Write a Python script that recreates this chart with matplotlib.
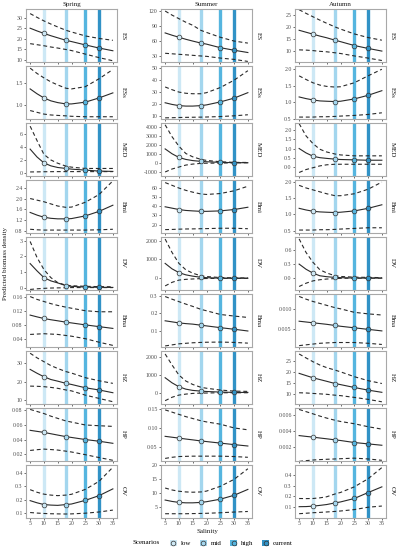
import matplotlib
matplotlib.use("Agg")
import matplotlib.pyplot as plt
from matplotlib.patches import Patch
from matplotlib.lines import Line2D
from matplotlib.legend_handler import HandlerTuple
from matplotlib.offsetbox import HPacker

plt.rcParams['font.family'] = ['Liberation Serif', 'DejaVu Serif']

# ---------------- data ----------------
seasons = ["Spring", "Summer", "Autumn"]
variables = ["ES", "ESs", "MED", "Bmi", "DV", "Bma", "HZ", "HP", "OV"]
sal = [5, 7.5, 10, 12.5, 15, 18, 20, 25, 30, 35]
scen_names = ["low", "mid", "high", "current"]
scen_sal = [10, 18, 25, 30]

# each list: [spring, summer, autumn]
ES_fit = [[25.0, 23.7, 22.5, 21.4, 20.4, 19.2, 18.6, 17.0, 15.5, 14.2],
          [76, 71.5, 67.5, 63.5, 60, 56, 54, 47, 42, 37.5],
          [18.7, 17.9, 17.1, 16.3, 15.6, 14.6, 14.0, 12.4, 11.2, 10.1]]
ES_hi = [[32.0, 30.2, 28.5, 27.0, 25.6, 24.0, 23.2, 21.3, 20.1, 19.2],
         [119, 111, 104, 97, 91, 81, 77, 67.5, 60, 56],
         [27.2, 25.7, 24.3, 22.9, 21.6, 20.1, 19.2, 17.2, 15.7, 14.6]]
ES_lo = [[17.6, 17.1, 16.6, 16.0, 15.5, 14.8, 14.3, 12.6, 10.9, 9.4],
         [36, 35, 34, 33, 32, 30.7, 30, 26.6, 24, 20],
         [10.6, 10.5, 10.3, 10.0, 9.8, 9.4, 9.1, 8.1, 7.2, 6.2]]

ESs_fit = [[1.36, 1.25, 1.156, 1.09, 1.05, 1.02, 1.02, 1.06, 1.156, 1.27],
           [21, 19.6, 18.6, 18.2, 18.2, 18.6, 19.2, 21.7, 24.9, 29.5],
           [1.16, 1.11, 1.07, 1.04, 1.03, 1.02, 1.03, 1.10, 1.21, 1.35]]
ESs_hi = [[1.83, 1.71, 1.61, 1.52, 1.45, 1.375, 1.36, 1.41, 1.59, 1.80],
          [34.3, 32, 30, 29, 28.6, 28.6, 29.5, 33.8, 40, 48],
          [1.80, 1.69, 1.59, 1.52, 1.48, 1.46, 1.47, 1.59, 1.80, 2.0]]
ESs_lo = [[0.87, 0.83, 0.79, 0.77, 0.76, 0.75, 0.74, 0.73, 0.73, 0.73],
          [8.3, 8.4, 8.6, 8.7, 8.8, 8.9, 9.0, 9.4, 10, 10.9],
          [0.55, 0.55, 0.55, 0.56, 0.56, 0.57, 0.58, 0.60, 0.63, 0.68]]

MED_fit = [[3.7, 2.5, 1.6, 1.15, 0.9, 0.75, 0.65, 0.5, 0.35, 0.3],
           [1540, 1000, 590, 370, 240, 150, 110, 40, 10, 0],
           [1.0, 0.76, 0.58, 0.5, 0.46, 0.42, 0.40, 0.38, 0.36, 0.36]]
MED_hi = [[7.2, 5.0, 2.9, 2.05, 1.55, 1.1, 0.95, 0.75, 0.75, 0.75],
          [4230, 2900, 1840, 1030, 660, 370, 260, 110, 40, 30],
          [2.36, 1.69, 1.27, 0.96, 0.81, 0.7, 0.65, 0.6, 0.6, 0.6]]
MED_lo = [[0.22, 0.23, 0.25, 0.26, 0.27, 0.27, 0.27, 0.27, 0.27, 0.27],
          [-1030, -700, -480, -260, -150, -70, -50, -40, -10, 0],
          [-0.31, -0.15, -0.05, 0.05, 0.11, 0.14, 0.14, 0.14, 0.14, 0.14]]

Bmi_fit = [[1.48, 1.38, 1.30, 1.26, 1.24, 1.24, 1.25, 1.35, 1.52, 1.75],
           [39.5, 38, 36.5, 35.5, 35, 34.5, 34.5, 35, 36.5, 39],
           [1.19, 1.14, 1.10, 1.08, 1.07, 1.06, 1.07, 1.11, 1.19, 1.30]]
Bmi_hi = [[2.0, 1.94, 1.88, 1.80, 1.72, 1.67, 1.68, 1.86, 2.15, 2.66],
          [66, 63, 60, 57.5, 55.5, 53.5, 53, 54, 57, 62],
          [1.90, 1.82, 1.76, 1.70, 1.64, 1.58, 1.58, 1.64, 1.78, 2.0]]
Bmi_lo = [[0.85, 0.83, 0.82, 0.82, 0.82, 0.82, 0.82, 0.82, 0.83, 0.85],
          [14.5, 14.7, 15, 15.2, 15.3, 15.5, 15.6, 16, 16, 15.5],
          [0.52, 0.52, 0.52, 0.53, 0.53, 0.54, 0.55, 0.57, 0.59, 0.59]]

DV_fit = [[1.54, 1.07, 0.64, 0.43, 0.30, 0.12, 0.08, 0.03, 0.02, 0.01],
          [790, 500, 300, 180, 110, 50, 30, 0, 0, 0],
          [0.30, 0.19, 0.107, 0.05, 0.03, 0.014, 0.01, 0, 0, 0]]
DV_hi = [[2.96, 1.93, 1.16, 0.64, 0.32, 0.15, 0.12, 0.08, 0.06, 0.05],
         [2090, 1375, 790, 450, 270, 125, 90, 35, 20, 15],
         [0.84, 0.55, 0.34, 0.18, 0.11, 0.05, 0.035, 0.02, 0.015, 0.01]]
DV_lo = [[-0.12, -0.08, -0.05, -0.03, -0.02, -0.01, 0, 0, 0, 0],
         [-410, -220, -100, -60, -40, -20, -15, -5, -5, -5],
         [-0.18, -0.11, -0.06, -0.035, -0.02, -0.01, -0.005, 0, 0, 0]]

Bma_fit = [[0.1076, 0.1026, 0.098, 0.0945, 0.0915, 0.0876, 0.0855, 0.080, 0.075, 0.070],
           [0.158, 0.152, 0.146, 0.142, 0.139, 0.133, 0.129, 0.119, 0.110, 0.100],
           [0.0069, 0.0067, 0.0065, 0.0063, 0.0061, 0.0058, 0.0056, 0.0052, 0.0048, 0.0044]]
Bma_hi = [[0.160, 0.152, 0.146, 0.140, 0.135, 0.130, 0.127, 0.120, 0.117, 0.117],
          [0.296, 0.281, 0.267, 0.253, 0.240, 0.223, 0.215, 0.194, 0.185, 0.177],
          [0.0133, 0.0126, 0.0120, 0.0115, 0.0110, 0.0104, 0.0101, 0.0092, 0.0088, 0.0085]]
Bma_lo = [[0.053, 0.054, 0.055, 0.054, 0.053, 0.050, 0.048, 0.041, 0.031, 0.022],
          [0.015, 0.021, 0.027, 0.030, 0.033, 0.035, 0.036, 0.037, 0.035, 0.031],
          [0.0006, 0.0008, 0.0010, 0.0012, 0.0013, 0.0014, 0.0014, 0.0014, 0.0012, 0.0009]]

HZ_fit = [[26.7, 24.6, 22.7, 21.2, 20.3, 19.1, 18.5, 16.7, 15.5, 14.0],
          [833, 550, 333, 200, 130, 90, 70, 37, 18, 18],
          [19.4, 18.4, 17.4, 16.6, 15.8, 14.8, 14.3, 13.0, 11.8, 10.8]]
HZ_hi = [[35.5, 33.0, 30.9, 28.8, 27.2, 25.5, 24.7, 22.2, 20.5, 19.1],
         [2150, 1540, 980, 650, 460, 300, 250, 150, 90, 75],
         [28.2, 26.4, 24.7, 23.2, 22.0, 20.9, 20.1, 17.9, 16.1, 14.8]]
HZ_lo = [[17.6, 17.5, 17.3, 16.9, 16.4, 15.5, 15.0, 12.7, 10.9, 9.1],
         [-440, -250, -130, -75, -37, -20, -15, 0, 0, 0],
         [10.6, 10.5, 10.3, 10.1, 9.9, 9.5, 9.3, 8.5, 7.6, 6.5]]

HP_fit = [[0.0524, 0.0510, 0.0496, 0.0478, 0.0460, 0.0439, 0.0428, 0.0400, 0.0377, 0.0349],
          [0.0777, 0.0753, 0.0730, 0.0705, 0.0683, 0.0654, 0.0638, 0.0597, 0.0557, 0.0520],
          [0.00343, 0.00333, 0.00324, 0.00313, 0.00303, 0.00290, 0.00282, 0.00257, 0.00240, 0.00223]]
HP_hi = [[0.0806, 0.0778, 0.0750, 0.0715, 0.0685, 0.0650, 0.0635, 0.0596, 0.0586, 0.0577],
         [0.148, 0.142, 0.136, 0.130, 0.125, 0.119, 0.116, 0.110, 0.100, 0.095],
         [0.00667, 0.00640, 0.00613, 0.00585, 0.00560, 0.00533, 0.00518, 0.00490, 0.00453, 0.00423]]
HP_lo = [[0.0253, 0.0263, 0.0271, 0.0265, 0.0258, 0.0243, 0.0232, 0.0196, 0.0157, 0.0120],
         [0.019, 0.022, 0.024, 0.0245, 0.025, 0.025, 0.025, 0.025, 0.024, 0.022],
         [0.00023, 0.00032, 0.00040, 0.00045, 0.00049, 0.00053, 0.00056, 0.00063, 0.00053, 0.00036]]

OV_fit = [[0.193, 0.177, 0.164, 0.160, 0.158, 0.164, 0.168, 0.195, 0.230, 0.280],
          [7.4, 6.9, 6.55, 6.4, 6.4, 6.55, 6.8, 7.7, 9.1, 11.2],
          [0.104, 0.105, 0.109, 0.116, 0.124, 0.139, 0.148, 0.180, 0.235, 0.288]]
OV_hi = [[0.274, 0.255, 0.241, 0.234, 0.230, 0.234, 0.240, 0.276, 0.336, 0.440],
         [11.7, 11.0, 10.55, 10.3, 10.2, 10.3, 10.6, 12.3, 14.8, 18.6],
         [0.180, 0.179, 0.180, 0.186, 0.196, 0.222, 0.236, 0.288, 0.363, 0.467]]
OV_lo = [[0.105, 0.101, 0.098, 0.096, 0.095, 0.094, 0.095, 0.100, 0.109, 0.123],
         [2.5, 2.5, 2.5, 2.5, 2.55, 2.6, 2.65, 2.85, 3.1, 3.3],
         [0.039, 0.043, 0.048, 0.051, 0.055, 0.060, 0.064, 0.077, 0.099, 0.110]]

fits = [ES_fit, ESs_fit, MED_fit, Bmi_fit, DV_fit, Bma_fit, HZ_fit, HP_fit, OV_fit]
his = [ES_hi, ESs_hi, MED_hi, Bmi_hi, DV_hi, Bma_hi, HZ_hi, HP_hi, OV_hi]
los = [ES_lo, ESs_lo, MED_lo, Bmi_lo, DV_lo, Bma_lo, HZ_lo, HP_lo, OV_lo]

# y tick labels per panel [row][col]
ytick_labels = [
    [["10", "15", "20", "25", "30"], ["30", "60", "90", "120"], ["10", "15", "20", "25"]],
    [["1.0", "1.5"], ["10", "20", "30", "40", "50"], ["0.5", "1.0", "1.5", "2.0"]],
    [["0", "2", "4", "6"], ["-1000", "0", "1000", "2000", "3000", "4000"], ["0.0", "0.5", "1.0", "1.5", "2.0"]],
    [["0.8", "1.2", "1.6", "2.0", "2.4"], ["20", "30", "40", "50", "60"], ["0.5", "1.0", "1.5", "2.0"]],
    [["0", "1", "2", "3"], ["0", "1000", "2000"], ["0.0", "0.3", "0.6"]],
    [["0.04", "0.08", "0.12", "0.16"], ["0.1", "0.2", "0.3"], ["0.005", "0.010"]],
    [["10", "20", "30"], ["0", "1000", "2000"], ["10", "15", "20", "25"]],
    [["0.02", "0.04", "0.06", "0.08"], ["0.05", "0.10", "0.15"], ["0.002", "0.004", "0.006"]],
    [["0.1", "0.2", "0.3", "0.4"], ["5", "10", "15", "20"], ["0.1", "0.2", "0.3", "0.4"]],
]
xtick_vals = [5, 10, 15, 20, 25, 30, 35]

# ---------------- style / layout ----------------
ylims = [
    [(8.6, 34.2), (18, 123), (5.4, 27.5)],
    [(0.67, 1.88), (7, 52), (0.48, 2.1)],
    [(-0.45, 7.7), (-1515, 4440), (-0.52, 2.4)],
    [(0.7, 2.7), (10.5, 69), (0.42, 2.07)],
    [(-0.17, 3.26), (-640, 2210), (-0.26, 0.886)],
    [(0.017, 0.168), (0.008, 0.312), (0.0002, 0.014)],
    [(7.8, 36.9), (-630, 2333), (5.45, 29.7)],
    [(0.011, 0.083), (0.012, 0.154), (0.00027, 0.0069)],
    [(0.0645, 0.46), (0.97, 20.1), (-0.001, 0.495)],
]
scen_colors = ["#cde8f5", "#a3d6ee", "#55b5df", "#3192c6"]
line_col = "#2a2a2a"
border_col = "#a8a8a8"
tick_fs = 4.2
lab_fs = 5.0

W, H = 399, 550
fig = plt.figure(figsize=(W / 100, H / 100), dpi=100)
fig.patch.set_facecolor("white")

col_left = [26, 161, 295]
pw = 91
top0 = 9
bottom = 518
gap = 3.5
ph = (bottom - top0 - 8 * gap) / 9

for r, var in enumerate(variables):
    for c, season in enumerate(seasons):
        x0 = col_left[c]
        y0 = top0 + r * (ph + gap)
        ax = fig.add_axes([x0 / W, 1 - (y0 + ph) / H, pw / W, ph / H])
        for s, col in zip(scen_sal, scen_colors):
            ax.axvline(s, color=col, lw=2.4, zorder=1)
        ax.plot(sal, his[r][c], color=line_col, lw=0.8, ls=(0, (3.5, 2.5)), zorder=2)
        ax.plot(sal, los[r][c], color=line_col, lw=0.8, ls=(0, (3.5, 2.5)), zorder=2)
        ax.plot(sal, fits[r][c], color=line_col, lw=0.8, zorder=3)
        for s, col in zip(scen_sal, scen_colors):
            i = sal.index(s)
            ax.plot([s], [fits[r][c][i]], marker="o", ms=3.4, mfc=col,
                    mec="#333333", mew=0.5, ls="none", zorder=4)
        ax.set_xlim(3.5, 36.5)
        ax.set_ylim(*ylims[r][c])
        labs = ytick_labels[r][c]
        ax.set_yticks([float(v) for v in labs])
        ax.set_yticklabels(labs)
        ax.set_xticks(xtick_vals)
        if r == len(variables) - 1:
            ax.set_xticklabels([str(v) for v in xtick_vals])
        else:
            ax.set_xticklabels([])
        ax.tick_params(axis="both", labelsize=tick_fs, length=1.6, width=0.5,
                       color="#333333", labelcolor="#4d4d4d", pad=0.8)
        for sp in ax.spines.values():
            sp.set_color(border_col)
            sp.set_linewidth(0.8)
        ax.text(1.0 + 6.0 / pw, 0.5, var, transform=ax.transAxes, rotation=270,
                ha="center", va="center", fontsize=lab_fs, color="#1a1a1a")
        if r == 0:
            ax.set_title(season, fontsize=lab_fs, pad=2, color="#1a1a1a")

fig.text(6 / W, 1 - 264 / H, "Predicted biomass density", rotation=90,
         ha="center", va="center", fontsize=lab_fs, color="#1a1a1a")
fig.text(207 / W, 1 - 531 / H, "Salinity", ha="center", va="center",
         fontsize=lab_fs, color="#1a1a1a")

handles = []
for col in scen_colors:
    handles.append((Patch(facecolor=col, edgecolor="none"),
                    Line2D([], [], marker="o", ms=3.4, mfc=col, mec="#333333",
                           mew=0.5, ls="none")))
leg = fig.legend(handles, scen_names, loc="center", ncol=4,
                 bbox_to_anchor=(213 / W, 1 - 543 / H), frameon=False,
                 fontsize=lab_fs, handler_map={tuple: HandlerTuple(ndivide=1)},
                 handlelength=1.0, handleheight=1.0, handletextpad=0.6,
                 columnspacing=1.2, title="Scenarios")
title_box = leg._legend_title_box
entries = leg._legend_handle_box
leg._legend_box._children = [HPacker(pad=0, sep=7, children=[title_box, entries], align="center")]
leg.get_title().set_fontsize(lab_fs)

fig.savefig("out.png", dpi=100, facecolor="white")
